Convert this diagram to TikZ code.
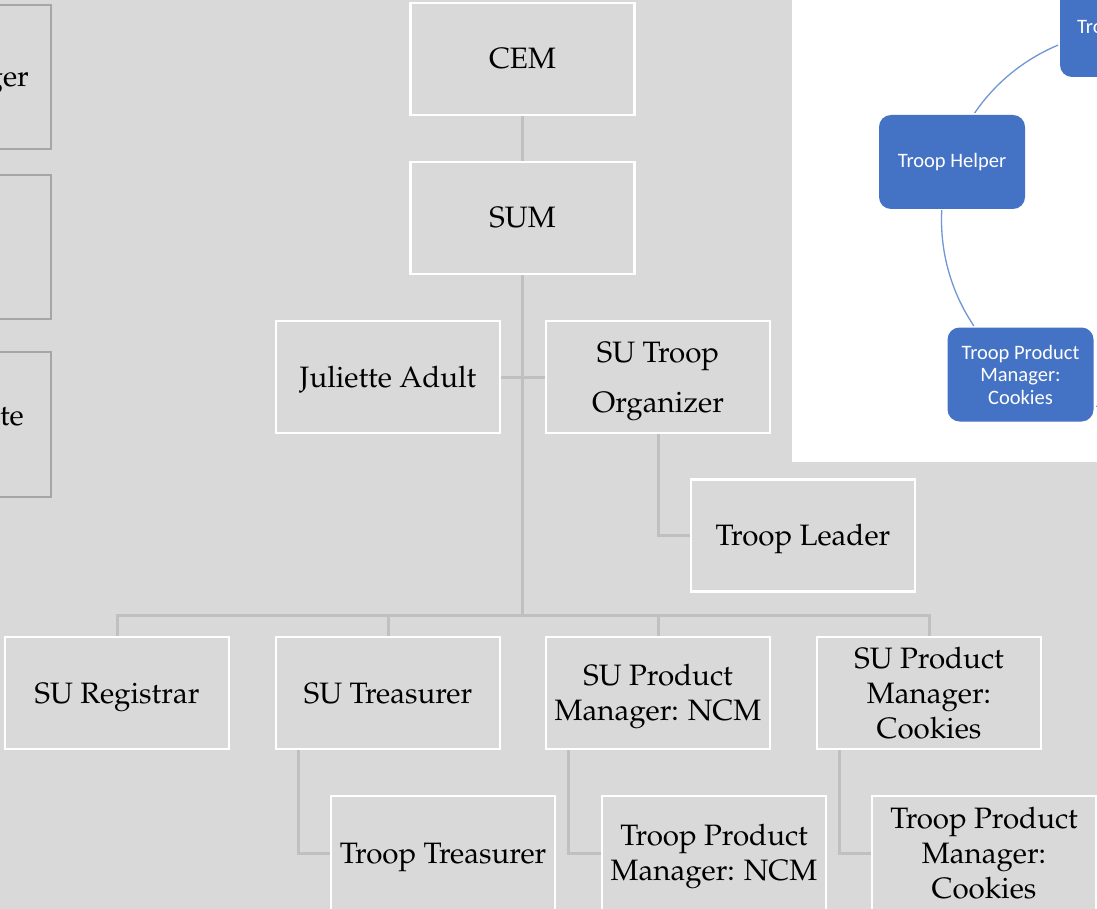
\documentclass[tikz,border=0pt]{standalone}
\usepackage{fontspec}
\newfontfamily\calib{Carlito}
\newcommand\palfont{\fontencoding{OT1}\fontfamily{ppl}\selectfont}
\newcommand\sstrut{\rule[-9pt]{0pt}{38pt}}
\newcommand\mstrut{\rule{0pt}{29pt}}
\newcommand\tstrut{\rule{0pt}{21.5pt}}
\usetikzlibrary{backgrounds}
\definecolor{bgc}{RGB}{217,217,217}
\definecolor{connc}{RGB}{192,192,192}
\definecolor{lgray}{RGB}{166,166,166}
\definecolor{blueA}{RGB}{68,114,196}
\definecolor{arcc}{RGB}{112,150,212}
\begin{document}
\begin{tikzpicture}[x=1pt,y=-1pt,
  orgbox/.style={draw=white, line width=2.5pt, fill=bgc, minimum width=224pt, minimum height=112pt,
    inner sep=0pt, align=center, text=black, font=\palfont\fontsize{29.5}{35}\selectfont},
  leftbox/.style={draw=lgray, line width=2.5pt, fill=bgc, minimum width=224pt, inner sep=0pt},
  lefttext/.style={inner sep=0pt, text=black, font=\palfont\fontsize{29.5}{35}\selectfont},
  bluebox/.style={fill=blueA, draw=none, rounded corners=12pt, minimum width=146pt, minimum height=94pt,
    inner sep=0pt, align=center, text=white, font=\calib\fontsize{20.5}{22.5}\selectfont},
  bluetext/.style={inner sep=0pt, text=white, font=\calib\fontsize{20.5}{22.5}\selectfont},
  conn/.style={draw=connc, line width=3pt},
  arcl/.style={draw=arcc, line width=1.3pt}]
\useasboundingbox (0,0) rectangle (1097,909);
\clip (0,0) rectangle (1097,909);

% left partial boxes
\node[leftbox, minimum height=144pt] (lb1) at (-61,77) {};
\node[leftbox, minimum height=144pt] (lb2) at (-61,247) {};
\node[leftbox, minimum height=145pt] (lb3) at (-61,424.5) {};
\node[lefttext, anchor=base east] (lt1) at (29,87) {ger};
\node[lefttext, anchor=base east] (lt3) at (24,425) {ate};

% org chart
\node[orgbox] (cem) at (522.5,59) {\sstrut CEM};
\node[orgbox] (sum) at (522.5,218) {\sstrut SUM};
\node[orgbox] (jul) at (388,377) {\sstrut Juliette Adult};
\node[orgbox, font=\palfont\fontsize{29.5}{50}\selectfont] (org) at (658,377) {\mstrut SU Troop\\Organizer};
\node[orgbox] (tl) at (803,535.5) {\sstrut Troop Leader};
\node[orgbox] (reg) at (117,693) {\sstrut SU Registrar};
\node[orgbox] (tre) at (388,693) {\sstrut SU Treasurer};
\node[orgbox] (ncm) at (658,693) {\mstrut SU Product\\Manager: NCM};
\node[orgbox] (cok) at (929,693) {\tstrut SU Product\\Manager:\\Cookies};
\node[orgbox, minimum height=114pt] (ttr) at (443,853) {\sstrut Troop Treasurer};
\node[orgbox, minimum height=114pt] (tncm) at (714,853) {\mstrut Troop Product\\Manager: NCM};
\node[orgbox, minimum height=114pt] (tcok) at (984,853) {\tstrut Troop Product\\Manager:\\Cookies};

\coordinate (bus) at (522.5,615);
\begin{pgfonlayer}{background}
\fill[bgc] (0,0) rectangle (1097,909);
\draw[conn] (cem.south) -- (sum.north);
\draw[conn] (sum.south) -- (bus);
\draw[conn] (jul.east) -- (org.west);
\draw[conn] (org.south) |- (tl.west);
\draw[conn] (reg.north) |- (bus) -| (cok.north);
\draw[conn] (tre.north) -- (tre.north |- bus);
\draw[conn] (ncm.north) -- (ncm.north |- bus);
\draw[conn] ([xshift=-90pt]tre.south) |- (ttr.west);
\draw[conn] ([xshift=-90pt]ncm.south) |- (tncm.west);
\draw[conn] ([xshift=-90pt]cok.south) |- (tcok.west);
\end{pgfonlayer}

% inset panel
\fill[white] (792,0) rectangle (1097,462);
\node[bluebox] (thelp) at (952,162) {Troop Helper};
\node[bluebox] (tpmc) at (1020.5,374.5) {Troop Product\\Manager:\\Cookies};
\node[bluebox, minimum width=145pt, minimum height=100pt] (ttop) at (1132.5,27) {};
\node[bluetext, anchor=base west] (ttoptxt) at (1077,34) {Tro};
\coordinate (cyc) at (1131,220);
\draw[arcl] (cyc) ++(-145.6:189.5) arc[start angle=-145.6, end angle=-112.6, radius=189.5];
\draw[arcl] (cyc) ++(183:189.5) arc[start angle=183, end angle=146, radius=189.5];
\draw[arcl] (cyc) ++(100.6:189.5) arc[start angle=100.6, end angle=92, radius=189.5];
\end{tikzpicture}
\end{document}
